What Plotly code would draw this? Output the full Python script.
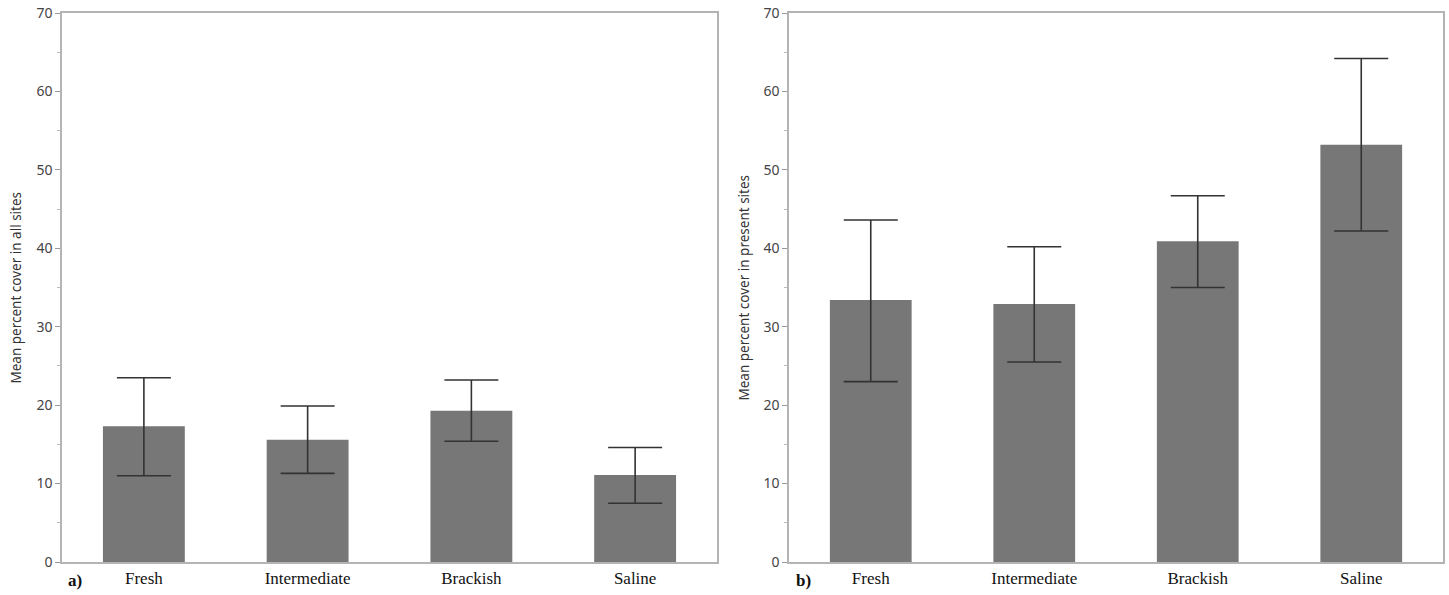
import plotly.graph_objects as go

categories = ["Fresh", "Intermediate", "Brackish", "Saline"]
all_mean = [17.3, 15.6, 19.3, 11.1]
all_upper = [23.5, 19.9, 23.2, 14.6]
all_lower = [11.0, 11.3, 15.4, 7.5]
present_mean = [33.4, 32.9, 40.9, 53.2]
present_upper = [43.6, 40.2, 46.7, 64.2]
present_lower = [23.0, 25.5, 35.0, 42.2]
y_ticks = [0, 10, 20, 30, 40, 50, 60, 70]

W, H = 1449, 595
fig = go.Figure()

def add_panel(mean, upper, lower, xa, ya):
    fig.add_trace(go.Bar(
        x=categories, y=mean, xaxis=xa, yaxis=ya, width=0.5,
        marker=dict(color="#777777", line=dict(width=0)),
        error_y=dict(type="data", symmetric=False,
                     array=[u - m for u, m in zip(upper, mean)],
                     arrayminus=[m - l for m, l in zip(mean, lower)],
                     color="#333333", thickness=1.6, width=27),
        showlegend=False, hoverinfo="skip"))

add_panel(all_mean, all_upper, all_lower, "x", "y")
add_panel(present_mean, present_upper, present_lower, "x2", "y2")

def px(x):
    return x / W

axis_line = "#b4b4b4"
xcommon = dict(type="category", showline=True, linecolor=axis_line, linewidth=1.5, mirror=True,
               ticks="", showgrid=False, zeroline=False, automargin=False,
               tickfont=dict(family="Liberation Serif, Times New Roman, serif", size=17, color="#111111"))
ycommon = dict(range=[0, 70], tickvals=y_ticks, showline=True, linecolor=axis_line, linewidth=1.5,
               mirror=True, ticks="outside", ticklen=5, tickcolor="#999999", showgrid=False, zeroline=False,
               automargin=False, ticklabeloverflow="allow",
               tickfont=dict(family="Noto Sans, Open Sans, sans-serif", size=14, color="#444444"),
               minor=dict(ticks="outside", ticklen=3, tickcolor="#bbbbbb", dtick=5))

top, bottom = 13, 562
plot_h = bottom - top
fig.update_layout(
    width=W, height=H, plot_bgcolor="white", paper_bgcolor="white",
    margin=dict(l=0, r=0, t=top, b=H - bottom, autoexpand=False), bargap=0.5,
    xaxis=dict(domain=[px(62), px(717)], anchor="y", **xcommon),
    yaxis=dict(domain=[0, 1], anchor="x", **ycommon),
    xaxis2=dict(domain=[px(789), px(1443)], anchor="y2", **xcommon),
    yaxis2=dict(domain=[0, 1], anchor="x2", **ycommon),
)

annos = [
    dict(text="Mean percent cover in all sites", x=px(15), y=0.5, textangle=-90),
    dict(text="Mean percent cover in present sites", x=px(743), y=0.5, textangle=-90),
]
for a in annos:
    fig.add_annotation(xref="paper", yref="paper", showarrow=False, xanchor="center", yanchor="middle",
                       font=dict(family="Noto Sans, Open Sans, sans-serif", size=13.5, color="#333333"), **a)
for lab, xp in [("a)", 75), ("b)", 803)]:
    fig.add_annotation(text="<b>" + lab + "</b>", xref="paper", yref="paper", x=px(xp), y=-18/plot_h,
                       showarrow=False, xanchor="center", yanchor="middle",
                       font=dict(family="Liberation Serif, Times New Roman, serif", size=17, color="#111111"))

fig.write_html("out.html", config={"displayModeBar": False},
               post_script="document.body.style.margin='0';document.body.style.padding='0';")
